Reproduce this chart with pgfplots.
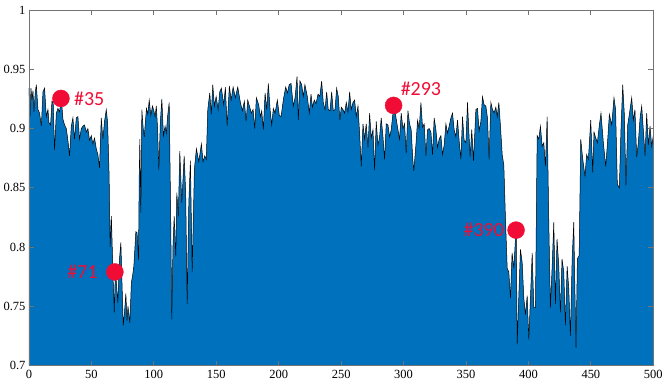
\documentclass[border=0pt]{standalone}
\usepackage{fontspec}
\setmainfont{Liberation Serif}
\newfontfamily\labfont{Carlito}
\usepackage{pgfplots}
\pgfplotsset{compat=1.18}
\usepackage{pgfplotstable}
\definecolor{areablue}{RGB}{0,114,189}
\definecolor{dotred}{RGB}{240,12,52}
\pgfplotstableread{
x y
0 0.934
0.8 0.910
1.6 0.934
2.4 0.924
3.2 0.932
4.0 0.914
5.0 0.930
5.9 0.937
7.2 0.916
8.5 0.913
9.9 0.902
11.2 0.931
12.5 0.934
13.9 0.910
15.2 0.916
16.0 0.905
17.3 0.903
18.4 0.923
19.4 0.922
20.5 0.882
21.9 0.913
23.2 0.917
24.5 0.914
25.9 0.926
27.2 0.908
28.5 0.903
29.9 0.900
31.2 0.890
32.5 0.877
33.9 0.902
35.2 0.909
36.5 0.891
37.9 0.909
39.2 0.910
40.5 0.891
41.9 0.900
43.2 0.902
44.5 0.903
45.9 0.897
47.2 0.900
48.5 0.890
49.9 0.894
51.2 0.887
52.5 0.892
53.9 0.883
55.2 0.878
56.5 0.867
57.9 0.909
59.2 0.891
60.5 0.906
61.9 0.916
63.0 0.905
64.2 0.860
65.0 0.800
66.0 0.826
67.5 0.770
68.3 0.745
69.2 0.780
70.0 0.770
71.2 0.753
72.5 0.790
73.6 0.804
74.5 0.770
75.5 0.734
76.5 0.745
77.6 0.761
78.5 0.738
79.3 0.750
80.8 0.736
82.0 0.770
83.0 0.776
84.0 0.784
85.6 0.813
86.6 0.812
87.7 0.789
88.3 0.860
88.8 0.891
89.6 0.829
90.4 0.916
91.5 0.900
92.3 0.893
93.2 0.905
94.1 0.917
95.2 0.912
96.3 0.924
97.6 0.911
98.9 0.919
100.0 0.915
101.0 0.910
102.0 0.919
103.0 0.900
104.0 0.865
105.2 0.905
106.4 0.925
107.7 0.894
109.0 0.902
110.0 0.896
111.0 0.910
112.3 0.922
113.4 0.835
114.4 0.739
115.3 0.800
116.3 0.826
117.6 0.792
118.4 0.846
119.6 0.826
120.8 0.881
122.4 0.837
124.3 0.877
125.5 0.846
126.7 0.752
128.0 0.837
129.3 0.873
130.7 0.779
132.5 0.866
134.1 0.883
136.0 0.872
138.1 0.887
139.4 0.872
140.8 0.877
142.0 0.874
143.2 0.916
144.8 0.930
146.0 0.912
147.2 0.937
148.5 0.919
149.9 0.927
151.5 0.916
152.8 0.931
154.1 0.934
156.0 0.920
157.3 0.935
158.7 0.902
160.5 0.936
161.9 0.924
163.5 0.935
165.3 0.926
167.2 0.935
169.3 0.922
170.9 0.915
172.5 0.923
173.9 0.906
175.2 0.924
176.8 0.918
178.1 0.913
179.5 0.916
180.8 0.900
182.1 0.926
184.0 0.920
185.3 0.910
186.4 0.915
187.7 0.899
189.1 0.930
190.4 0.916
191.7 0.938
193.1 0.916
194.4 0.903
195.7 0.917
197.1 0.913
198.9 0.924
200.5 0.911
201.9 0.910
203.8 0.925
205.6 0.935
207.0 0.930
208.4 0.937
209.9 0.938
211.7 0.919
213.1 0.926
214.7 0.944
215.7 0.907
217.0 0.940
218.4 0.937
219.7 0.927
221.0 0.937
222.9 0.927
224.5 0.913
225.9 0.929
227.0 0.918
228.5 0.924
229.9 0.921
231.5 0.929
232.9 0.927
234.4 0.940
235.7 0.922
237.1 0.916
238.4 0.931
239.7 0.916
241.1 0.915
242.4 0.931
243.7 0.915
245.1 0.916
246.4 0.934
247.7 0.927
249.0 0.907
250.1 0.918
251.5 0.916
252.8 0.913
254.1 0.922
255.5 0.914
256.8 0.931
258.1 0.916
259.5 0.922
260.8 0.924
262.1 0.910
263.5 0.919
264.8 0.896
266.1 0.868
267.5 0.904
268.8 0.891
270.1 0.904
271.5 0.884
272.8 0.913
274.1 0.892
275.5 0.899
276.8 0.865
278.1 0.906
279.5 0.886
280.8 0.893
282.1 0.909
283.5 0.893
284.8 0.874
286.1 0.904
287.5 0.903
288.8 0.893
290.1 0.899
291.5 0.913
292.5 0.919
293.5 0.912
295.5 0.899
296.8 0.891
298.1 0.913
299.5 0.900
300.8 0.904
302.1 0.879
303.5 0.915
304.8 0.904
306.1 0.899
307.4 0.874
308.2 0.864
310.0 0.888
311.2 0.907
312.5 0.900
313.9 0.922
315.2 0.901
316.5 0.904
317.9 0.877
319.2 0.899
320.5 0.900
321.9 0.897
323.2 0.878
324.5 0.909
325.9 0.899
327.2 0.884
328.5 0.891
329.9 0.894
331.2 0.878
332.5 0.886
333.9 0.904
335.2 0.896
336.5 0.902
337.9 0.909
339.2 0.913
340.5 0.899
341.9 0.893
343.2 0.907
344.5 0.890
345.9 0.874
347.2 0.910
348.5 0.890
349.9 0.888
351.2 0.922
352.5 0.893
353.3 0.876
354.6 0.899
356.0 0.873
357.9 0.916
359.2 0.917
360.5 0.898
361.9 0.906
363.2 0.927
364.5 0.920
365.9 0.919
367.2 0.909
368.5 0.874
369.9 0.922
371.2 0.916
372.5 0.913
373.9 0.918
375.0 0.910
376.3 0.922
377.6 0.902
379.0 0.878
380.3 0.869
381.6 0.824
383.0 0.782
384.3 0.779
385.6 0.757
386.9 0.795
388.3 0.782
389.6 0.807
390.2 0.815
391.0 0.718
392.3 0.759
393.6 0.798
395.0 0.787
396.3 0.757
397.6 0.743
399.0 0.759
400.3 0.722
401.6 0.757
403.0 0.795
404.3 0.749
405.6 0.749
407.0 0.894
408.3 0.891
409.6 0.902
411.0 0.885
412.3 0.888
413.6 0.868
415.0 0.910
416.3 0.821
417.6 0.749
419.0 0.784
420.3 0.821
421.6 0.752
422.9 0.807
424.3 0.784
425.6 0.745
426.9 0.790
428.3 0.779
429.6 0.734
431.0 0.784
432.3 0.765
433.6 0.725
435.0 0.790
436.3 0.821
437.0 0.776
438.1 0.715
439.2 0.790
440.6 0.793
441.9 0.891
443.2 0.877
444.0 0.870
445.3 0.860
446.6 0.878
448.0 0.874
449.9 0.907
451.5 0.863
452.5 0.897
453.9 0.892
455.2 0.888
456.8 0.903
458.1 0.913
460.0 0.888
461.9 0.868
463.5 0.891
464.8 0.912
466.7 0.903
468.5 0.926
469.8 0.916
471.2 0.853
472.8 0.850
474.1 0.899
475.5 0.937
476.8 0.912
478.1 0.852
479.5 0.903
480.8 0.912
482.7 0.926
484.0 0.907
485.3 0.916
486.7 0.876
488.0 0.888
489.4 0.909
490.7 0.919
492.0 0.899
493.4 0.877
494.7 0.913
496.0 0.886
497.4 0.902
498.7 0.885
500 0.894
}\signal
\pgfplotstableread{
x y
25.6 0.9254
68.8 0.779
292.0 0.9195
390.1 0.8143
}\dots
\begin{document}
\begin{tikzpicture}
\begin{axis}[
  scale only axis,
  width=625pt, height=356pt,
  xmin=0, xmax=500, ymin=0.7, ymax=1,
  xtick={0,50,...,500},
  ytick={0.7,0.75,0.8,0.85,0.9,0.95,1},
  yticklabels={0.7,0.75,0.8,0.85,0.9,0.95,1},
  tick align=inside,
  xtick pos=both, ytick pos=both,
  major tick length=5pt,
  axis line style={black!55, line width=0.8pt},
  every tick/.style={black!55, line width=0.8pt},
  tick label style={font=\fontsize{12.5}{14}\selectfont},
  /pgf/number format/assume math mode=true,
  xticklabel style={yshift=-1pt},
  clip=true,
  axis on top,
]
\addplot[fill=areablue, draw=none] table[x=x,y=y] {\signal} |- (axis cs:0,0.6) -- cycle;
\addplot[black, line width=0.5pt] table[x=x,y=y] {\signal};
\addplot[only marks, mark=*, mark size=8.5pt, dotred, mark options={draw=dotred, fill=dotred}] table[x=x,y=y] {\dots};
\node[anchor=west, text=dotred, font=\labfont\fontsize{20}{21}\selectfont, inner sep=0pt] at (axis cs:25.6,0.9254) [xshift=13pt] {\#35};
\node[anchor=east, text=dotred, font=\labfont\fontsize{20}{21}\selectfont, inner sep=0pt] at (axis cs:68.8,0.779) [xshift=-17pt] {\#71};
\node[anchor=west, text=dotred, font=\labfont\fontsize{20}{21}\selectfont, inner sep=0pt] at (axis cs:292.0,0.9195) [xshift=7pt, yshift=17pt] {\#293};
\node[anchor=east, text=dotred, font=\labfont\fontsize{20}{21}\selectfont, inner sep=0pt] at (axis cs:390.1,0.8143) [xshift=-12pt] {\#390};
\end{axis}
\path ([xshift=-29pt,yshift=-21pt]current axis.south west) rectangle ([xshift=12pt,yshift=10pt]current axis.north east);
\end{tikzpicture}
\end{document}
